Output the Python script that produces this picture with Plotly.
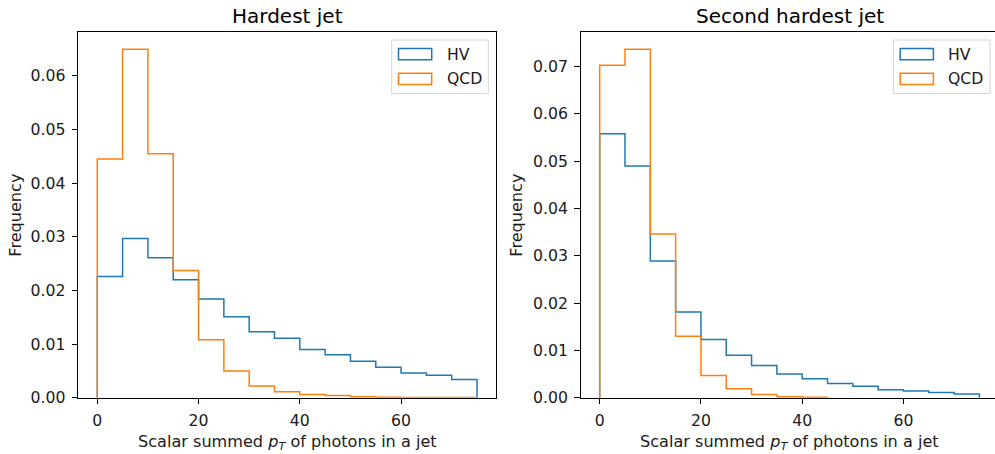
import plotly.graph_objects as go

W = 995
H = 454
FONT = "DejaVu Sans"
BLUE = "#1f77b4"
ORANGE = "#ff7f0e"
TXT = "#1a1a1a"

bin_width = 5
series_names = ["HV", "QCD"]
titles = ["Hardest jet", "Second hardest jet"]
x_ticks = [0, 20, 40, 60]

hv_hardest = [0.0226, 0.0297, 0.0261, 0.0220, 0.0184, 0.0151, 0.0123, 0.0111,
              0.0090, 0.0080, 0.0068, 0.0057, 0.0046, 0.0042, 0.0034]
qcd_hardest = [0.0445, 0.0650, 0.0455, 0.0237, 0.0108, 0.0050, 0.0022, 0.0011,
               0.0006, 0.0004, 0.0002, 0.0001, 0.00005, 0.00003, 0.00002]
hv_second = [0.0558, 0.0490, 0.0289, 0.0181, 0.0123, 0.0090, 0.0068, 0.0050,
             0.0040, 0.0030, 0.0024, 0.0017, 0.0014, 0.0011, 0.0008]
qcd_second = [0.0703, 0.0737, 0.0346, 0.0130, 0.0047, 0.0019, 0.0007, 0.0002, 0.0001]

y_ticks_hardest = [0.00, 0.01, 0.02, 0.03, 0.04, 0.05, 0.06]
y_ticks_second = [0.00, 0.01, 0.02, 0.03, 0.04, 0.05, 0.06, 0.07]


def step_xy(values):
    edges = [i * bin_width for i in range(len(values) + 1)]
    xs = [edges[0]] + edges
    ys = [0] + list(values) + [0]
    return xs, ys


def px(x):
    return x / W


def py(y):
    return 1 - y / H


fig = go.Figure()
panels = [
    (hv_hardest, qcd_hardest, "x", "y"),
    (hv_second, qcd_second, "x2", "y2"),
]
for hv, qcd, xa, ya in panels:
    for vals, color, name in ((hv, BLUE, series_names[0]), (qcd, ORANGE, series_names[1])):
        xs, ys = step_xy(vals)
        fig.add_trace(go.Scatter(x=xs, y=ys, mode="lines", line=dict(color=color, width=1.5, shape="hv"),
                                 name=name, showlegend=False, xaxis=xa, yaxis=ya, hoverinfo="skip"))

# geometry (pixels)
top, bottom = 31.7, 397.7
left1, right1 = 78.3, 496.0
left2 = 580.7
units_per_px = (78.75 + 3.75) / (right1 - left1)
x2_max = -3.75 + (W - left2) * units_per_px

TICK_FS = 15.7
LABEL_FS = 16.1
axis_common = dict(showgrid=False, zeroline=False, showline=True, linecolor="black", linewidth=1.2,
                   ticks="outside", ticklen=5.5, tickwidth=1.2, tickcolor="black", automargin=False,
                   tickfont=dict(family=FONT, size=TICK_FS, color=TXT))

fig.update_layout(
    width=W, height=H, margin=dict(l=0, r=0, t=0, b=0, pad=0, autoexpand=False),
    plot_bgcolor="white", paper_bgcolor="white", showlegend=False,
    xaxis=dict(domain=[px(left1), px(right1)], range=[-3.75, 78.75], tickvals=x_ticks, mirror=True,
               anchor="y", ticklabelstandoff=3, **axis_common),
    yaxis=dict(domain=[py(bottom), py(top)], range=[0, max(qcd_hardest) * 1.05], tickvals=y_ticks_hardest,
               tickformat=".2f", mirror=True, anchor="x", ticklabelstandoff=3, **axis_common),
    xaxis2=dict(domain=[px(left2), 1.0], range=[-3.75, x2_max], tickvals=x_ticks, mirror=True,
                anchor="y2", ticklabelstandoff=3, **axis_common),
    yaxis2=dict(domain=[py(bottom), py(top)], range=[0, max(qcd_second) * 1.05], tickvals=y_ticks_second,
                tickformat=".2f", mirror=False, anchor="x2", ticklabelstandoff=3, **axis_common),
)

annotations = []
shapes = []
xtitle = "Scalar summed <i>p</i><sub><i>T</i></sub> of photons in a jet"
for i, (l, r, ylab_x) in enumerate(((left1, right1, 16), (left2, left2 + (right1 - left1), 517))):
    cx = (l + r) / 2
    annotations.append(dict(text=titles[i], x=px(cx), y=py(16), xref="paper", yref="paper",
                            showarrow=False, font=dict(family=FONT, size=20, color="black"),
                            xanchor="center", yanchor="middle"))
    annotations.append(dict(text=xtitle, x=px(cx), y=py(442), xref="paper", yref="paper",
                            showarrow=False, font=dict(family=FONT, size=LABEL_FS, color=TXT),
                            xanchor="center", yanchor="middle"))
    annotations.append(dict(text="Frequency", x=px(ylab_x), y=py((top + bottom) / 2), xref="paper",
                            yref="paper", showarrow=False, textangle=-90,
                            font=dict(family=FONT, size=LABEL_FS, color=TXT),
                            xanchor="center", yanchor="middle"))
    # legend
    off = 0 if i == 0 else 501.7
    shapes.append(dict(type="rect", xref="paper", yref="paper", x0=px(391.7 + off), x1=px(488.3 + off),
                       y0=py(93.5), y1=py(40), line=dict(color="#d4d4d4", width=1),
                       fillcolor="rgba(255,255,255,0.8)", layer="above"))
    for j, (color, name) in enumerate(((BLUE, series_names[0]), (ORANGE, series_names[1]))):
        yc = 54.2 + j * 24.6
        shapes.append(dict(type="rect", xref="paper", yref="paper", x0=px(398.5 + off), x1=px(431.7 + off),
                           y0=py(yc + 5.6), y1=py(yc - 5.6), line=dict(color=color, width=1.5),
                           fillcolor="rgba(0,0,0,0)", layer="above"))
        annotations.append(dict(text=name, x=px(444.5 + off), y=py(yc), xref="paper", yref="paper",
                                showarrow=False, font=dict(family=FONT, size=TICK_FS, color=TXT),
                                xanchor="left", yanchor="middle"))

fig.update_layout(annotations=annotations, shapes=shapes)
fig.write_html("out.html")
